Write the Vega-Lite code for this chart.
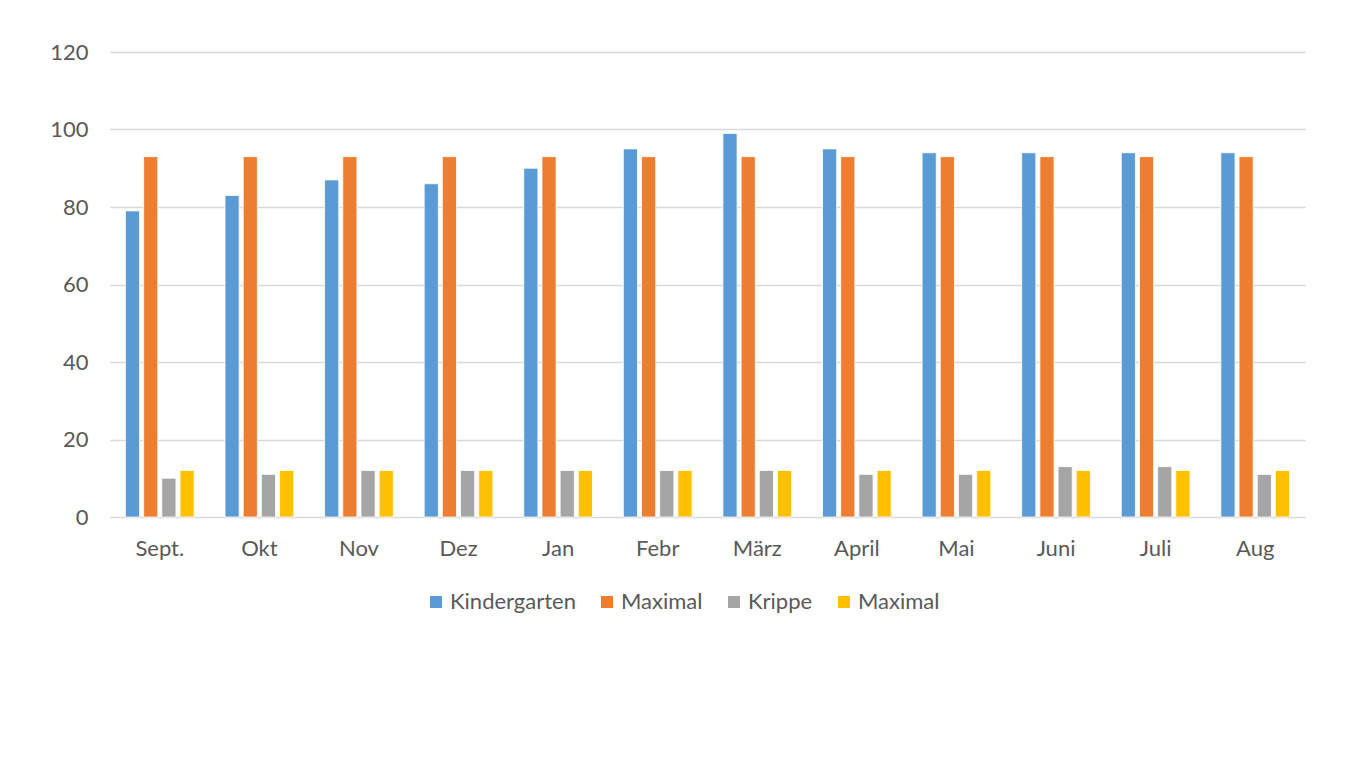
{
  "$schema": "https://vega.github.io/schema/vega-lite/v6.json",
  "autosize": {"type": "none"},
  "width": 1195,
  "height": 465,
  "padding": {"left": 110, "top": 52, "right": 54, "bottom": 245},
  "background": "white",
  "config": {
    "view": {"stroke": null},
    "font": "Lato",
    "axis": {"labelFont": "Lato", "labelColor": "#595959", "labelFontSize": 22, "titleFont": "Lato"},
    "legend": {"labelFont": "Lato", "labelColor": "#595959", "labelFontSize": 22}
  },
  "data": {
    "values": [
      {"Monat": "Sept.", "Serie": "Kindergarten", "Wert": 79},
      {"Monat": "Sept.", "Serie": "Maximal", "Wert": 93},
      {"Monat": "Sept.", "Serie": "Krippe", "Wert": 10},
      {"Monat": "Sept.", "Serie": "Maximal ", "Wert": 12},
      {"Monat": "Okt", "Serie": "Kindergarten", "Wert": 83},
      {"Monat": "Okt", "Serie": "Maximal", "Wert": 93},
      {"Monat": "Okt", "Serie": "Krippe", "Wert": 11},
      {"Monat": "Okt", "Serie": "Maximal ", "Wert": 12},
      {"Monat": "Nov", "Serie": "Kindergarten", "Wert": 87},
      {"Monat": "Nov", "Serie": "Maximal", "Wert": 93},
      {"Monat": "Nov", "Serie": "Krippe", "Wert": 12},
      {"Monat": "Nov", "Serie": "Maximal ", "Wert": 12},
      {"Monat": "Dez", "Serie": "Kindergarten", "Wert": 86},
      {"Monat": "Dez", "Serie": "Maximal", "Wert": 93},
      {"Monat": "Dez", "Serie": "Krippe", "Wert": 12},
      {"Monat": "Dez", "Serie": "Maximal ", "Wert": 12},
      {"Monat": "Jan", "Serie": "Kindergarten", "Wert": 90},
      {"Monat": "Jan", "Serie": "Maximal", "Wert": 93},
      {"Monat": "Jan", "Serie": "Krippe", "Wert": 12},
      {"Monat": "Jan", "Serie": "Maximal ", "Wert": 12},
      {"Monat": "Febr", "Serie": "Kindergarten", "Wert": 95},
      {"Monat": "Febr", "Serie": "Maximal", "Wert": 93},
      {"Monat": "Febr", "Serie": "Krippe", "Wert": 12},
      {"Monat": "Febr", "Serie": "Maximal ", "Wert": 12},
      {"Monat": "März", "Serie": "Kindergarten", "Wert": 99},
      {"Monat": "März", "Serie": "Maximal", "Wert": 93},
      {"Monat": "März", "Serie": "Krippe", "Wert": 12},
      {"Monat": "März", "Serie": "Maximal ", "Wert": 12},
      {"Monat": "April", "Serie": "Kindergarten", "Wert": 95},
      {"Monat": "April", "Serie": "Maximal", "Wert": 93},
      {"Monat": "April", "Serie": "Krippe", "Wert": 11},
      {"Monat": "April", "Serie": "Maximal ", "Wert": 12},
      {"Monat": "Mai", "Serie": "Kindergarten", "Wert": 94},
      {"Monat": "Mai", "Serie": "Maximal", "Wert": 93},
      {"Monat": "Mai", "Serie": "Krippe", "Wert": 11},
      {"Monat": "Mai", "Serie": "Maximal ", "Wert": 12},
      {"Monat": "Juni", "Serie": "Kindergarten", "Wert": 94},
      {"Monat": "Juni", "Serie": "Maximal", "Wert": 93},
      {"Monat": "Juni", "Serie": "Krippe", "Wert": 13},
      {"Monat": "Juni", "Serie": "Maximal ", "Wert": 12},
      {"Monat": "Juli", "Serie": "Kindergarten", "Wert": 94},
      {"Monat": "Juli", "Serie": "Maximal", "Wert": 93},
      {"Monat": "Juli", "Serie": "Krippe", "Wert": 13},
      {"Monat": "Juli", "Serie": "Maximal ", "Wert": 12},
      {"Monat": "Aug", "Serie": "Kindergarten", "Wert": 94},
      {"Monat": "Aug", "Serie": "Maximal", "Wert": 93},
      {"Monat": "Aug", "Serie": "Krippe", "Wert": 11},
      {"Monat": "Aug", "Serie": "Maximal ", "Wert": 12}
    ]
  },
  "mark": {"type": "bar", "stroke": "white", "strokeWidth": 0.8},
  "encoding": {
    "x": {
      "field": "Monat",
      "type": "nominal",
      "sort": ["Sept.", "Okt", "Nov", "Dez", "Jan", "Febr", "März", "April", "Mai", "Juni", "Juli", "Aug"],
      "scale": {"paddingInner": 0.31, "paddingOuter": 0.155},
      "axis": {"title": null, "labelAngle": 0, "ticks": false, "domain": false, "labelPadding": 21, "labelBaseline": "top"}
    },
    "xOffset": {
      "field": "Serie",
      "type": "nominal",
      "sort": ["Kindergarten", "Maximal", "Krippe", "Maximal "],
      "scale": {"paddingInner": 0.222, "paddingOuter": 0}
    },
    "y": {
      "field": "Wert",
      "type": "quantitative",
      "scale": {"domain": [0, 120], "nice": false},
      "axis": {"title": null, "values": [0, 20, 40, 60, 80, 100, 120], "ticks": false, "domain": false, "labelPadding": 22, "gridColor": "#d9d9d9", "gridWidth": 1.5}
    },
    "color": {
      "field": "Serie",
      "type": "nominal",
      "scale": {"domain": ["Kindergarten", "Maximal", "Krippe", "Maximal "], "range": ["#5B9BD5", "#ED7D31", "#A5A5A5", "#FFC000"]},
      "legend": {"title": null, "orient": "none", "legendX": 315, "legendY": 539, "direction": "horizontal", "symbolType": "square", "symbolSize": 144, "symbolStrokeWidth": 0, "labelOffset": 3, "columnPadding": 20, "padding": 0}
    }
  }
}
